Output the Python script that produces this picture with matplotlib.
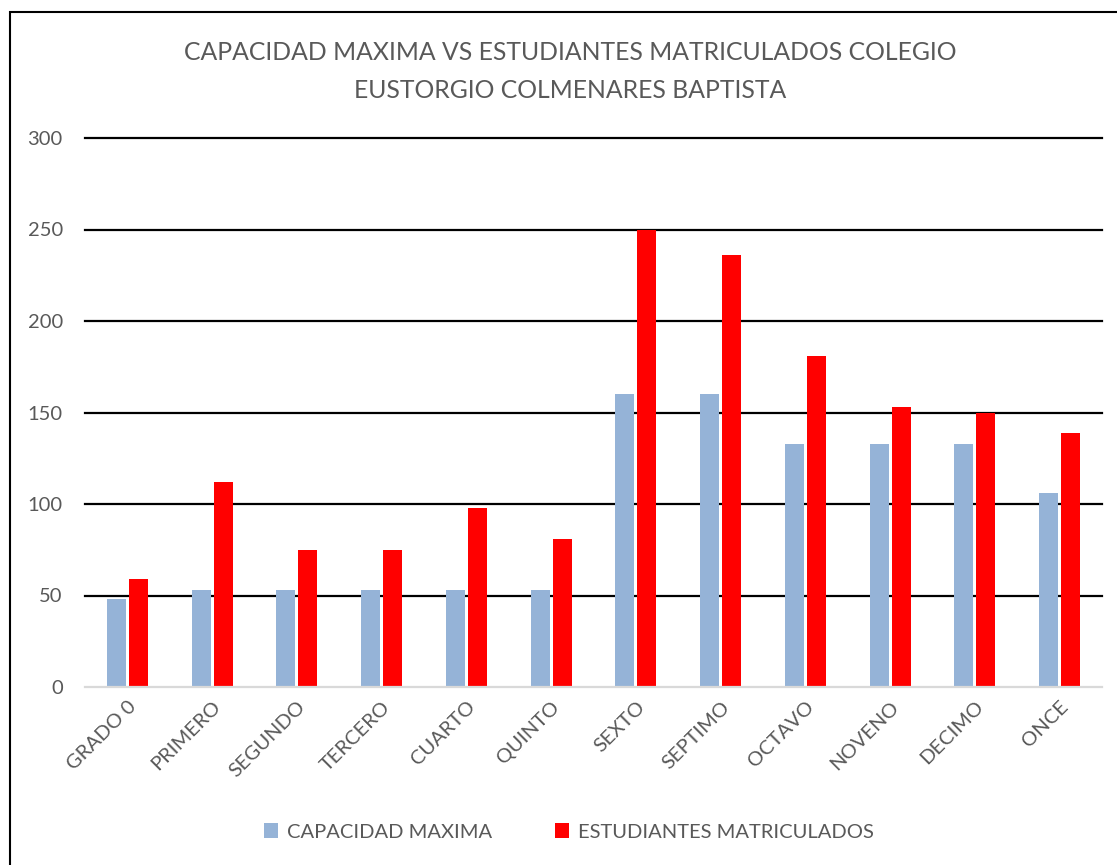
import matplotlib.pyplot as plt
import numpy as np
from matplotlib.patches import Rectangle

plt.rcParams['font.family'] = ['Lato', 'DejaVu Sans']

grados = ['GRADO 0', 'PRIMERO', 'SEGUNDO', 'TERCERO', 'CUARTO', 'QUINTO',
          'SEXTO', 'SEPTIMO', 'OCTAVO', 'NOVENO', 'DECIMO', 'ONCE']
capacidad = [48, 53, 53, 53, 53, 53, 160, 160, 133, 133, 133, 106]
matriculados = [59, 112, 75, 75, 98, 81, 250, 236, 181, 153, 150, 139]
y_ticks = [0, 50, 100, 150, 200, 250, 300]

TXT = '#595959'
W, H = 1117, 865

fig = plt.figure(figsize=(W / 100, H / 100), dpi=100)
ax = fig.add_axes([85 / W, 1 - 687 / H, (1102 - 85) / W, (687 - 138) / H])

x = np.arange(len(grados))
bw = 0.225
gap = 0.033
ax.bar(x - (bw + gap) / 2, capacidad, bw, color='#95b3d7', label='CAPACIDAD MAXIMA', zorder=3)
ax.bar(x + (bw + gap) / 2, matriculados, bw, color='#ff0000', label='ESTUDIANTES MATRICULADOS', zorder=3)

ax.set_xlim(-0.5, len(grados) - 0.5)
ax.set_ylim(0, 300)
ax.set_yticks(y_ticks)
for t in y_ticks[1:]:
    ax.axhline(t, color='black', lw=1.6, zorder=1, clip_on=False)
ax.axhline(0, color='#d9d9d9', lw=1.6, zorder=4, clip_on=False)

for s in ax.spines.values():
    s.set_visible(False)
ax.tick_params(axis='both', length=0, colors=TXT, labelsize=14.5)
ax.tick_params(axis='y', pad=16)
ax.set_xticks(x)
ax.set_xticklabels(grados, rotation=45, ha='right', rotation_mode='anchor')
ax.tick_params(axis='x', pad=8)

fig.text(570 / W, 1 - 52 / H, 'CAPACIDAD MAXIMA VS ESTUDIANTES MATRICULADOS COLEGIO',
         ha='center', va='center', fontsize=17.8, color=TXT)
fig.text(570 / W, 1 - 90 / H, 'EUSTORGIO COLMENARES BAPTISTA',
         ha='center', va='center', fontsize=17.8, color=TXT)

ax.legend(loc='center', bbox_to_anchor=(569 / W, 1 - 832 / H), bbox_transform=fig.transFigure,
          ncol=2, frameon=False, fontsize=14.5, labelcolor=TXT, handlelength=0.7,
          handleheight=0.7, columnspacing=3.1, handletextpad=0.45)

fig.patches.append(Rectangle((10 / W, -0.1), 1.2, 1.1 - 12 / H, transform=fig.transFigure,
                             fill=False, edgecolor='black', lw=1.5))

fig.savefig('out.png', dpi=100)
